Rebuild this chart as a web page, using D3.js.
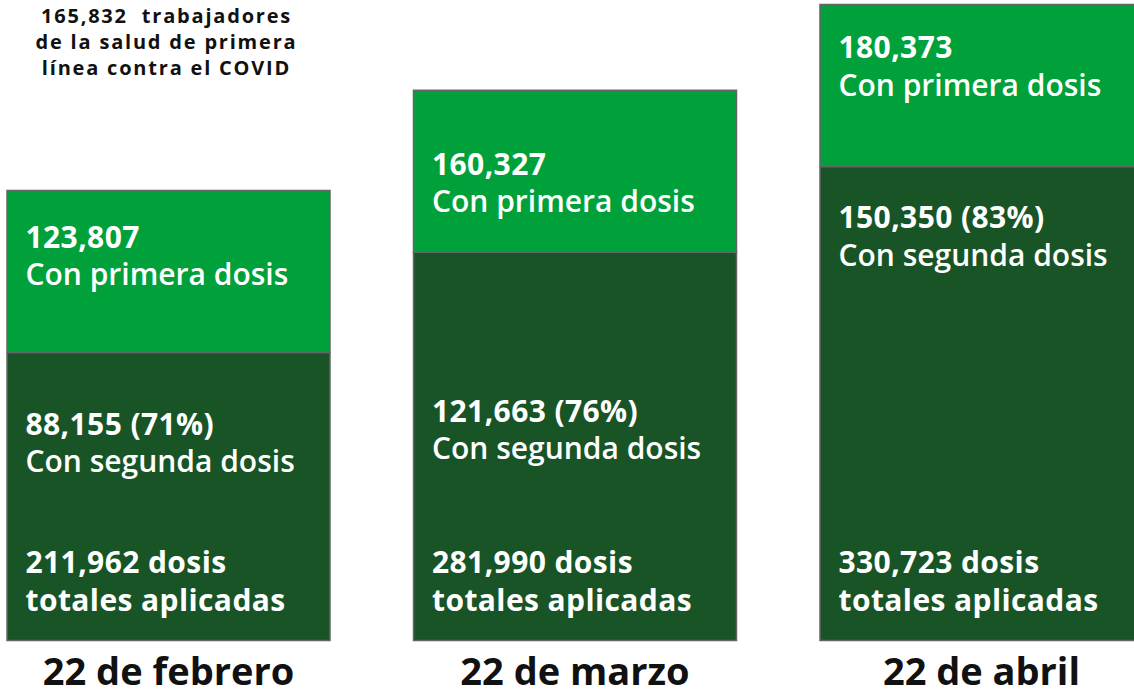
<!DOCTYPE html>
<html>
<head>
<meta charset="utf-8">
<script src="https://cdn.jsdelivr.net/npm/d3@7"></script>
<style>
  html, body { margin: 0; padding: 0; background: #ffffff; }
  svg { display: block; }
  text { font-family: "Open Sans", "Noto Sans", sans-serif; }
</style>
</head>
<body>
<svg id="chart" width="1134" height="698"></svg>
<script>
// ---------------- DATA ----------------
const categories    = ["22 de febrero", "22 de marzo", "22 de abril"];
const primeraDosis  = [123807, 160327, 180373];
const segundaDosis  = [88155, 121663, 150350];
const porcentajeSeg = [71, 76, 83];
const dosisTotales  = [211962, 281990, 330723];
const titleLines    = ["165,832  trabajadores", "de la salud de primera", "línea contra el COVID"];
const labelPrimera  = "Con primera dosis";
const labelSegunda  = "Con segunda dosis";
const labelTotal1   = "dosis";
const labelTotal2   = "totales aplicadas";

// ---------------- LAYOUT ----------------
const bottom = 640.5;
const headerH = 162;                            // height of the "primera dosis" band
const firstLabelOffset  = [57.5, 84.5, 53.5];   // baseline below band top
const secondLabelOffset = [82.5, 169.5, 61.5];  // baseline below dark top
const lineGap = 37.5;
const padX = 18.5;

const lightGreen = "#00a13a";
const darkGreen  = "#185426";
const borderCol  = "#656565";

const svg = d3.select("#chart");

const x = d3.scaleBand()
  .domain(categories)
  .range([7, 1143])
  .paddingInner(0.2054)
  .paddingOuter(0);

// value -> top of the "segunda dosis" block
const y = d3.scaleLinear()
  .domain([0, d3.max(segundaDosis)])
  .range([616.1, 166.5]);

const fmt = d3.format(",");

const rows = categories.map((c, i) => ({
  cat: c, i,
  primera: primeraDosis[i],
  segunda: segundaDosis[i],
  pct: porcentajeSeg[i],
  total: dosisTotales[i]
}));

const g = svg.selectAll("g.bar").data(rows).join("g").attr("class", "bar");

// dark block (segunda dosis)
g.append("rect")
  .attr("x", d => x(d.cat))
  .attr("y", d => y(d.segunda))
  .attr("width", x.bandwidth())
  .attr("height", d => bottom - y(d.segunda))
  .attr("fill", darkGreen)
  .attr("stroke", borderCol)
  .attr("stroke-width", 1.5);

// light block (primera dosis) on top
g.append("rect")
  .attr("x", d => x(d.cat))
  .attr("y", d => y(d.segunda) - headerH)
  .attr("width", x.bandwidth())
  .attr("height", headerH)
  .attr("fill", lightGreen)
  .attr("stroke", borderCol)
  .attr("stroke-width", 1.5);

const numStyle = s => s.attr("fill", "#fff").attr("font-size", 30).attr("font-weight", 700).attr("letter-spacing", 0.4);
const lblStyle = s => s.attr("fill", "#fff").attr("font-size", 30).attr("font-weight", 600);

// primera dosis labels
g.append("text").call(numStyle)
  .attr("x", d => x(d.cat) + padX)
  .attr("y", d => y(d.segunda) - headerH + firstLabelOffset[d.i])
  .text(d => fmt(d.primera));
g.append("text").call(lblStyle)
  .attr("x", d => x(d.cat) + padX)
  .attr("y", d => y(d.segunda) - headerH + firstLabelOffset[d.i] + lineGap)
  .text(labelPrimera);

// segunda dosis labels
g.append("text").call(numStyle)
  .attr("x", d => x(d.cat) + padX)
  .attr("y", d => y(d.segunda) + secondLabelOffset[d.i])
  .text(d => `${fmt(d.segunda)} (${d.pct}%)`);
g.append("text").call(lblStyle)
  .attr("x", d => x(d.cat) + padX)
  .attr("y", d => y(d.segunda) + secondLabelOffset[d.i] + lineGap)
  .text(labelSegunda);

// totals
g.append("text").call(numStyle)
  .attr("x", d => x(d.cat) + padX)
  .attr("y", bottom - 67.5)
  .text(d => `${fmt(d.total)} ${labelTotal1}`);
g.append("text").call(numStyle)
  .attr("x", d => x(d.cat) + padX)
  .attr("y", bottom - 30)
  .text(labelTotal2);

// category labels
g.append("text")
  .attr("x", d => x(d.cat) + x.bandwidth() / 2)
  .attr("y", 685)
  .attr("text-anchor", "middle")
  .attr("font-size", 38)
  .attr("font-weight", 700)
  .attr("fill", "#111")
  .text(d => d.cat);

// title
const cx = x(categories[0]) + x.bandwidth() / 2 - 2;
svg.append("text")
  .attr("text-anchor", "middle")
  .attr("font-size", 20)
  .attr("font-weight", 700)
  .attr("letter-spacing", 1.8)
  .attr("fill", "#111")
  .style("white-space", "pre")
  .selectAll("tspan").data(titleLines).join("tspan")
  .attr("x", cx)
  .attr("y", (d, i) => 23 + i * 26)
  .text(d => d);
</script>
</body>
</html>
